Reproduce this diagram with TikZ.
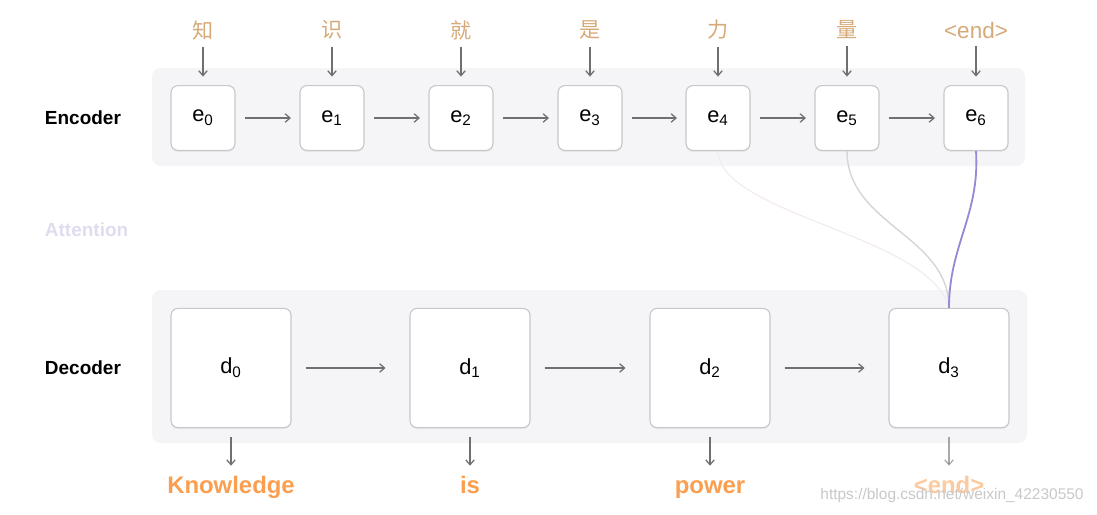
\documentclass[tikz,border=0pt]{standalone}
\usepackage{fontspec}
\setmainfont{Liberation Sans}
\newfontfamily\cjk{Noto Sans CJK SC}
\usetikzlibrary{arrows.meta,shadows}
\definecolor{bandgray}{RGB}{245,244,247}
\definecolor{boxline}{RGB}{200,200,202}
\definecolor{arrgray}{RGB}{112,112,112}
\definecolor{inorange}{RGB}{214,170,120}
\definecolor{outorange}{RGB}{250,158,80}
\definecolor{attpurple}{RGB}{150,138,212}
\definecolor{attlabel}{RGB}{224,220,240}
\tikzset{band/.style={fill=bandgray,rounded corners=6pt,draw=none},
         ebox/.style={draw=boxline,fill=white,line width=0.8pt,rounded corners=5pt,
            minimum width=1.6cm,minimum height=1.62cm,
            drop shadow={opacity=0.12,shadow xshift=0pt,shadow yshift=-1pt},
            font=\fontsize{15.5}{15.5}\selectfont},
         dbox/.style={ebox,minimum width=3cm,minimum height=2.98cm},
         intok/.style={text=inorange,inner sep=2pt,font=\cjk\fontsize{15}{15}\selectfont},
         outtok/.style={text=outorange,inner sep=2pt,anchor=base,text height=1.55ex,text depth=0.45ex,
            font=\bfseries\fontsize{17}{17}\selectfont},
         side/.style={font=\bfseries\fontsize{13.5}{13.5}\selectfont,anchor=west},
         arr/.style={draw=arrgray,line width=0.9pt,-{Straight Barb[length=3.5pt,width=6pt]}},
         earr/.style={arr,shorten <=7pt,shorten >=6pt},
         darr/.style={arr,shorten <=10pt,shorten >=17pt},
         inarr/.style={arr,shorten <=3pt,shorten >=6pt},
         outarr/.style={arr,shorten <=6pt,shorten >=9pt}
}

\begin{document}
\begin{tikzpicture}[x=0.025cm,y=-0.025cm]
\useasboundingbox (0,0) rectangle (1097,514);

\fill[band] (152,68) rectangle (1025,166);
\fill[band] (152,290) rectangle (1027,443);

\node[side] (enclab) at (40,118) {Encoder};
\node[side,text=attlabel] (attlab) at (40,230) {Attention};
\node[side] (declab) at (40,368) {Decoder};

\node[ebox] (e0) at (203,118) {e\textsubscript{0}};
\node[ebox] (e1) at (332,118) {e\textsubscript{1}};
\node[ebox] (e2) at (461,118) {e\textsubscript{2}};
\node[ebox] (e3) at (590,118) {e\textsubscript{3}};
\node[ebox] (e4) at (718,118) {e\textsubscript{4}};
\node[ebox] (e5) at (847,118) {e\textsubscript{5}};
\node[ebox] (e6) at (976,118) {e\textsubscript{6}};

\node[intok] (x0) at (203,30) {知};
\node[intok] (x1) at (332,30) {识};
\node[intok] (x2) at (461,30) {就};
\node[intok] (x3) at (590,30) {是};
\node[intok] (x4) at (718,30) {力};
\node[intok] (x5) at (847,30) {量};
\node[intok,font=\fontsize{16}{16}\selectfont] (x6) at (976,30) {<end>};

\draw[inarr] (x0) -- (e0);
\draw[inarr] (x1) -- (e1);
\draw[inarr] (x2) -- (e2);
\draw[inarr] (x3) -- (e3);
\draw[inarr] (x4) -- (e4);
\draw[inarr] (x5) -- (e5);
\draw[inarr] (x6.south) -- (e6);

\draw[earr] (e0) -- (e1);
\draw[earr] (e1) -- (e2);
\draw[earr] (e2) -- (e3);
\draw[earr] (e3) -- (e4);
\draw[earr] (e4) -- (e5);
\draw[earr] (e5) -- (e6);

\node[dbox] (d0) at (231,368) {d\textsubscript{0}};
\node[dbox] (d1) at (470,368) {d\textsubscript{1}};
\node[dbox] (d2) at (710,368) {d\textsubscript{2}};
\node[dbox] (d3) at (949,368) {d\textsubscript{3}};

\draw[darr] (d0) -- (d1);
\draw[darr] (d1) -- (d2);
\draw[darr] (d2) -- (d3);

\node[outtok] (y0) at (231,493) {Knowledge};
\node[outtok] (y1) at (470,493) {is};
\node[outtok] (y2) at (710,493) {power};
\node[outtok,opacity=0.55] (y3) at (949,493) {<end>};

\draw[outarr] (d0.south) -- (y0.north);
\draw[outarr] (d1.south) -- (y1.north);
\draw[outarr] (d2.south) -- (y2.north);
\draw[outarr,opacity=0.6] (d3.south) -- (y3.north);

% attention weights
\draw[color={rgb,255:red,242;green,234;blue,242},line width=0.8pt] (e4.south) .. controls (720,215) and (930,235) .. (d3.north);
\draw[color={rgb,255:red,214;green,212;blue,216},line width=1pt] (e5.south) .. controls (847,225) and (949,235) .. (d3.north);
\draw[attpurple,line width=1.3pt] (e6.south) .. controls (980,215) and (949,245) .. (d3.north);

\node[text={rgb,255:red,200;green,200;blue,202},font=\fontsize{11}{11}\selectfont] (mark) at (952,495) {https://blog.csdn.net/weixin\_42230550};
\end{tikzpicture}
\end{document}
